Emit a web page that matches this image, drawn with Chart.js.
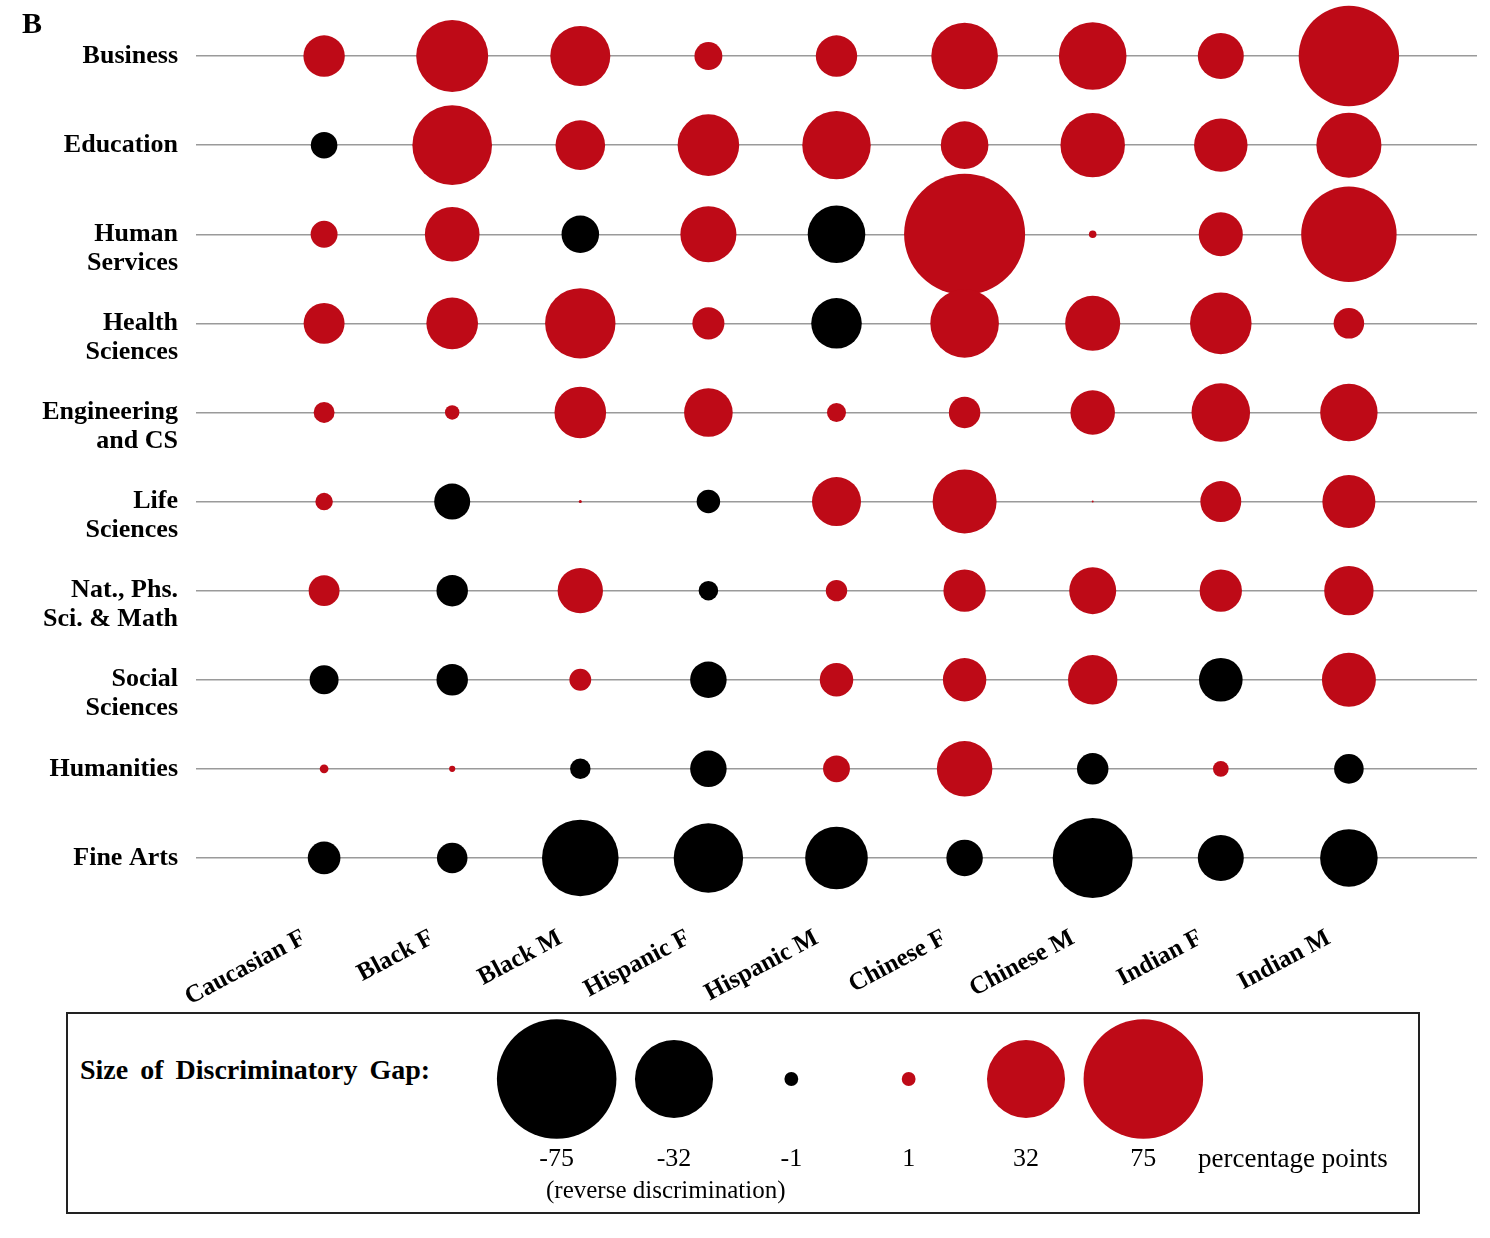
<!DOCTYPE html>
<html>
<head>
<meta charset="utf-8">
<script src="https://cdn.jsdelivr.net/npm/chart.js@4.4.1/dist/chart.umd.min.js"></script>
<style>
  body { margin: 0; background: #fff; }
  #page { position: relative; width: 1490px; height: 1238px; font-family: 'Liberation Serif', serif; color: #000; }
  #main { position: absolute; left: 0; top: 0; }
  #panel { position: absolute; left: 22px; top: 8px; font-size: 30px; font-weight: bold; line-height: 1; }
  #legendBox { position: absolute; left: 66px; top: 1012px; width: 1354px; height: 202px; border: 2px solid #222; box-sizing: border-box; }
  #legendChart { position: absolute; left: 478px; top: 1018px; }
  .ltxt { position: absolute; white-space: nowrap; line-height: 1; }
</style>
</head>
<body>
<div id="page">
  <canvas id="main" width="1490" height="1010"></canvas>
  <div id="panel">B</div>
  <div id="legendBox"></div>
  <canvas id="legendChart" width="744" height="160"></canvas>
  <div class="ltxt" style="left:80px;top:1056px;font-size:28px;font-weight:bold;word-spacing:5px;">Size of Discriminatory Gap:</div>
  <div class="ltxt" style="left:1198px;top:1145px;font-size:27px;">percentage points</div>
  <div class="ltxt" style="left:546px;top:1177px;font-size:25px;">(reverse discrimination)</div>
</div>
<script>
// columns and rows
const groups = ['Caucasian F', 'Black F', 'Black M', 'Hispanic F', 'Hispanic M',
                'Chinese F', 'Chinese M', 'Indian F', 'Indian M'];
const fields = ['Business', 'Education', 'Human Services', 'Health Sciences', 'Engineering and CS',
                'Life Sciences', 'Nat., Phs. Sci. & Math', 'Social Sciences', 'Humanities', 'Fine Arts'];
// tick labels (leading '' keeps the first line on the grid line)
const fieldLabels = [['Business'], ['Education'], ['', 'Human', 'Services'], ['', 'Health', 'Sciences'],
                     ['', 'Engineering', 'and CS'], ['', 'Life', 'Sciences'], ['', 'Nat., Phs.', 'Sci. & Math'],
                     ['', 'Social', 'Sciences'], ['Humanities'], ['Fine Arts']];

// discriminatory gap, percentage points (negative = reverse discrimination)
const business       = [9.0, 27.2, 18.9, 4.1, 9.0, 23.3, 24.0, 11.1, 52.9];
const education      = [-3.7, 33.3, 12.9, 19.9, 24.6, 11.9, 21.8, 15.0, 22.2];
const humanServices  = [3.8, 15.7, -7.4, 16.5, -17.4, 76.9, 0.3, 10.2, 47.8];
const healthSciences = [8.8, 14.0, 26.0, 5.4, -13.4, 24.7, 15.9, 19.9, 4.9];
const engineeringCS  = [2.3, 1.1, 14.0, 12.4, 1.9, 5.2, 10.4, 18.0, 17.3];
const lifeSciences   = [1.6, -6.8, 0.05, -2.9, 12.6, 21.5, 0.02, 8.8, 14.8];
const natPhysMath    = [5.0, -5.2, 10.8, -2.0, 2.4, 9.4, 11.6, 9.4, 12.8];
const socialSciences = [-4.4, -5.2, 2.5, -7.0, 5.9, 9.9, 12.8, -10.0, 15.3];
const humanities     = [0.4, 0.2, -2.2, -7.0, 3.8, 16.2, -5.2, 1.3, -4.6];
const fineArts       = [-5.6, -4.9, -30.8, -25.3, -20.6, -7.0, -33.6, -11.1, -17.4];

const legendValues = [-75, -32, -1, 1, 32, 75];

const gapRows = [business, education, humanServices, healthSciences, engineeringCS,
                 lifeSciences, natPhysMath, socialSciences, humanities, fineArts];

const RED = '#be0a17';
const BLACK = '#000000';
const sizeK = 6.9; // area proportional to gap

function radius(v) { return sizeK * Math.sqrt(Math.abs(v)); }
function fillFor(ctx) { return ctx.raw && ctx.raw.v < 0 ? BLACK : RED; }

const points = [];
gapRows.forEach((row, fi) => {
  row.forEach((v, gi) => points.push({ x: gi, y: fi, r: radius(v), v: v }));
});

new Chart(document.getElementById('main'), {
  type: 'bubble',
  data: {
    datasets: [{
      data: points,
      backgroundColor: fillFor,
      borderWidth: 0,
      clip: false
    }]
  },
  options: {
    responsive: false,
    animation: false,
    events: [],
    layout: { autoPadding: false, padding: { top: 11.5, right: 13, left: 0, bottom: 0 } },
    plugins: { legend: { display: false }, tooltip: { enabled: false } },
    scales: {
      x: {
        type: 'linear', min: -1, max: 9,
        afterBuildTicks: s => { s.ticks = groups.map((g, i) => ({ value: i })); },
        afterFit: s => { s.height = 107.5; s.paddingLeft = 0; s.paddingRight = 0; },
        grid: { display: false },
        border: { display: false },
        ticks: {
          autoSkip: false, minRotation: 28, maxRotation: 28,
          labelOffset: -20, padding: 13, color: '#000',
          font: { family: 'Liberation Serif', size: 25, weight: 'bold' },
          callback: v => groups[v]
        }
      },
      y: {
        type: 'linear', min: -0.5, max: 9.5, reverse: true,
        afterBuildTicks: s => { s.ticks = fields.map((f, i) => ({ value: i })); },
        afterFit: s => { s.width = 196; s.paddingTop = 0; s.paddingBottom = 0; },
        grid: { color: '#9a9a9a', lineWidth: 1.5, drawTicks: false },
        border: { display: false },
        ticks: {
          padding: 18, color: '#000',
          font: { family: 'Liberation Serif', size: 26, weight: 'bold', lineHeight: 1.1 },
          callback: v => fieldLabels[v]
        }
      }
    }
  }
});

// size legend
new Chart(document.getElementById('legendChart'), {
  type: 'bubble',
  data: {
    labels: legendValues.map(String),
    datasets: [{
      data: legendValues.map(v => ({ x: String(v), y: 0.5, r: radius(v), v: v })),
      backgroundColor: fillFor,
      borderWidth: 0,
      clip: false
    }]
  },
  options: {
    responsive: false,
    animation: false,
    events: [],
    layout: { autoPadding: false, padding: { left: 20, right: 20, top: 0, bottom: 0 } },
    plugins: { legend: { display: false }, tooltip: { enabled: false } },
    scales: {
      x: {
        type: 'category', offset: true,
        grid: { display: false },
        border: { display: false },
        afterFit: s => { s.height = 38; s.paddingLeft = 0; s.paddingRight = 0; },
        ticks: { autoSkip: false, maxRotation: 0, padding: -4, color: '#000', font: { family: 'Liberation Serif', size: 26 } }
      },
      y: { display: false, min: 0, max: 1 }
    }
  }
});
</script>
</body>
</html>
